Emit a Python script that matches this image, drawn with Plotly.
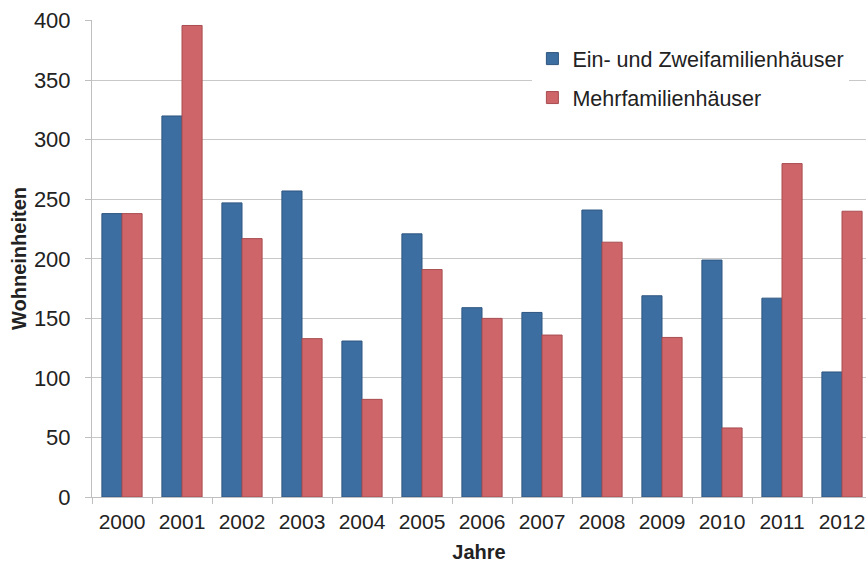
import plotly.graph_objects as go

years = ["2000", "2001", "2002", "2003", "2004", "2005", "2006",
         "2007", "2008", "2009", "2010", "2011", "2012"]
ein_zwei = [238, 320, 247, 257, 131, 221, 159, 155, 241, 169, 199, 167, 105]
mehr = [238, 396, 217, 133, 82, 191, 150, 136, 214, 134, 58, 280, 240]
y_ticks = [0, 50, 100, 150, 200, 250, 300, 350, 400]

name_ein = "Ein- und Zweifamilienhäuser"
name_mehr = "Mehrfamilienhäuser"

FONT = "Liberation Sans, Arial, sans-serif"
BLUE = "#3C6EA1"
RED = "#CD6569"

fig = go.Figure()
fig.add_trace(go.Bar(x=years, y=ein_zwei, name=name_ein, legendgroup="a",
                     marker=dict(color=BLUE, line=dict(color="#2E5680", width=1))))
fig.add_trace(go.Bar(x=years, y=mehr, name=name_mehr, legendgroup="b",
                     marker=dict(color=RED, line=dict(color="#A84D51", width=1))))

fig.update_layout(
    width=866, height=563,
    margin=dict(l=92, r=0, t=20, b=66, autoexpand=False),
    paper_bgcolor="white", plot_bgcolor="white",
    barmode="group", bargap=0.33, bargroupgap=0,
    font=dict(family=FONT, size=22, color="#222222"),
    legend=dict(x=0.569, y=0.962, xanchor="left", yanchor="top",
                bgcolor="white", font=dict(size=21.5, color="#222222"),
                traceorder="grouped", tracegroupgap=8),
    xaxis=dict(range=[-0.5, 12.4], type="category", automargin=False,
               showline=True, linecolor="#BFBFBF", linewidth=1,
               ticks="outside", tickson="boundaries", ticklen=6, tickcolor="#BFBFBF",
               showgrid=False, ticklabelstandoff=6, tickfont=dict(size=21),
               title=dict(text="<b>Jahre</b>", font=dict(size=20), standoff=14)),
    yaxis=dict(range=[0, 400.6], tickvals=y_ticks, automargin=False,
               showline=True, linecolor="#BFBFBF", linewidth=1,
               ticks="outside", ticklen=6, tickcolor="#BFBFBF",
               gridcolor="#C8C8C8", gridwidth=1, zeroline=False,
               ticklabelstandoff=10,
               title=dict(text="<b>Wohneinheiten</b>", font=dict(size=20), standoff=1)),
)

fig.write_html("out.html", config={"displayModeBar": False},
               post_script="document.body.style.margin='0px';")
